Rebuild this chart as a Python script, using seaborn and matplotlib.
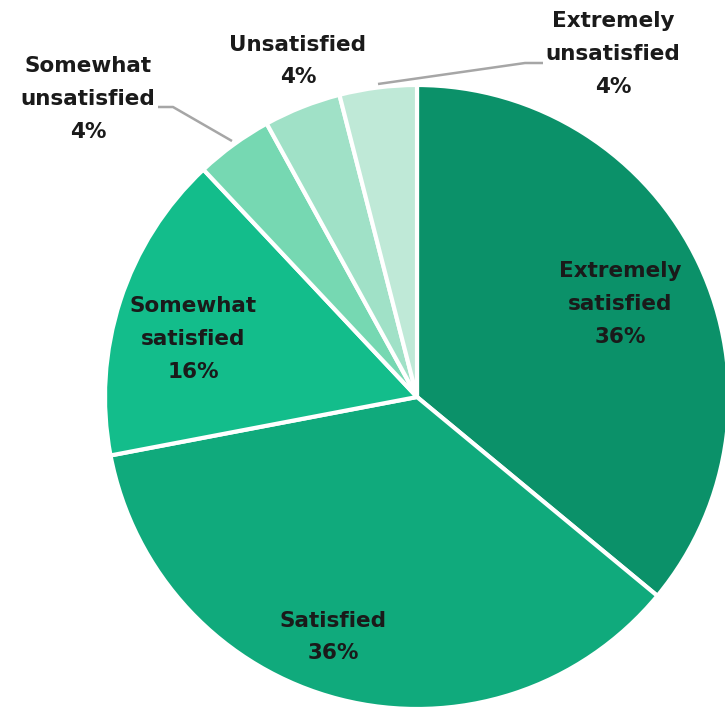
import matplotlib
matplotlib.use("Agg")
import matplotlib.pyplot as plt
import seaborn as sns

sns.set_theme(style="white")
plt.rcParams['font.family'] = ['DejaVu Sans']

categories = ["Extremely satisfied", "Satisfied", "Somewhat satisfied",
              "Somewhat unsatisfied", "Unsatisfied", "Extremely unsatisfied"]
values = [36, 36, 16, 4, 4, 4]
label_texts = ["Extremely\nsatisfied\n36%", "Satisfied\n36%", "Somewhat\nsatisfied\n16%",
               "Somewhat\nunsatisfied\n4%", "Unsatisfied\n4%", "Extremely\nunsatisfied\n4%"]
colors = ["#0b9169", "#10aa7c", "#13bd8b", "#76d8b2", "#a0e1c7", "#bfe9d7"]

W, H = 725, 707
fig = plt.figure(figsize=(W / 100, H / 100), dpi=100)
ax = fig.add_axes([0, 0, 1, 1])

cx, cy, r = 417, H - 397, 312
ax.pie(values, colors=colors, startangle=90, counterclock=False,
       center=(cx, cy), radius=r,
       wedgeprops=dict(edgecolor="white", linewidth=3))
ax.set_xlim(0, W)
ax.set_ylim(0, H)
ax.set_aspect("equal")
ax.axis("off")

# label centres in pixel coords (x, y measured from top)
label_pos = [(620, 304), (333, 637), (193, 339), (88, 99), (298, 61), (613, 54)]
for txt, (x, y) in zip(label_texts, label_pos):
    ax.text(x, H - y, txt, ha="center", va="center", fontsize=15.5,
            fontweight="bold", color="#1a1a1a", linespacing=1.8)

# leader lines
ax.plot([158, 173, 232], [H - 107, H - 107, H - 141], color="#a6a6a6", lw=1.8,
        solid_capstyle="butt")
ax.plot([378, 525, 543], [H - 84, H - 63, H - 63], color="#a6a6a6", lw=1.8,
        solid_capstyle="butt")

fig.savefig("out.png", dpi=100)
